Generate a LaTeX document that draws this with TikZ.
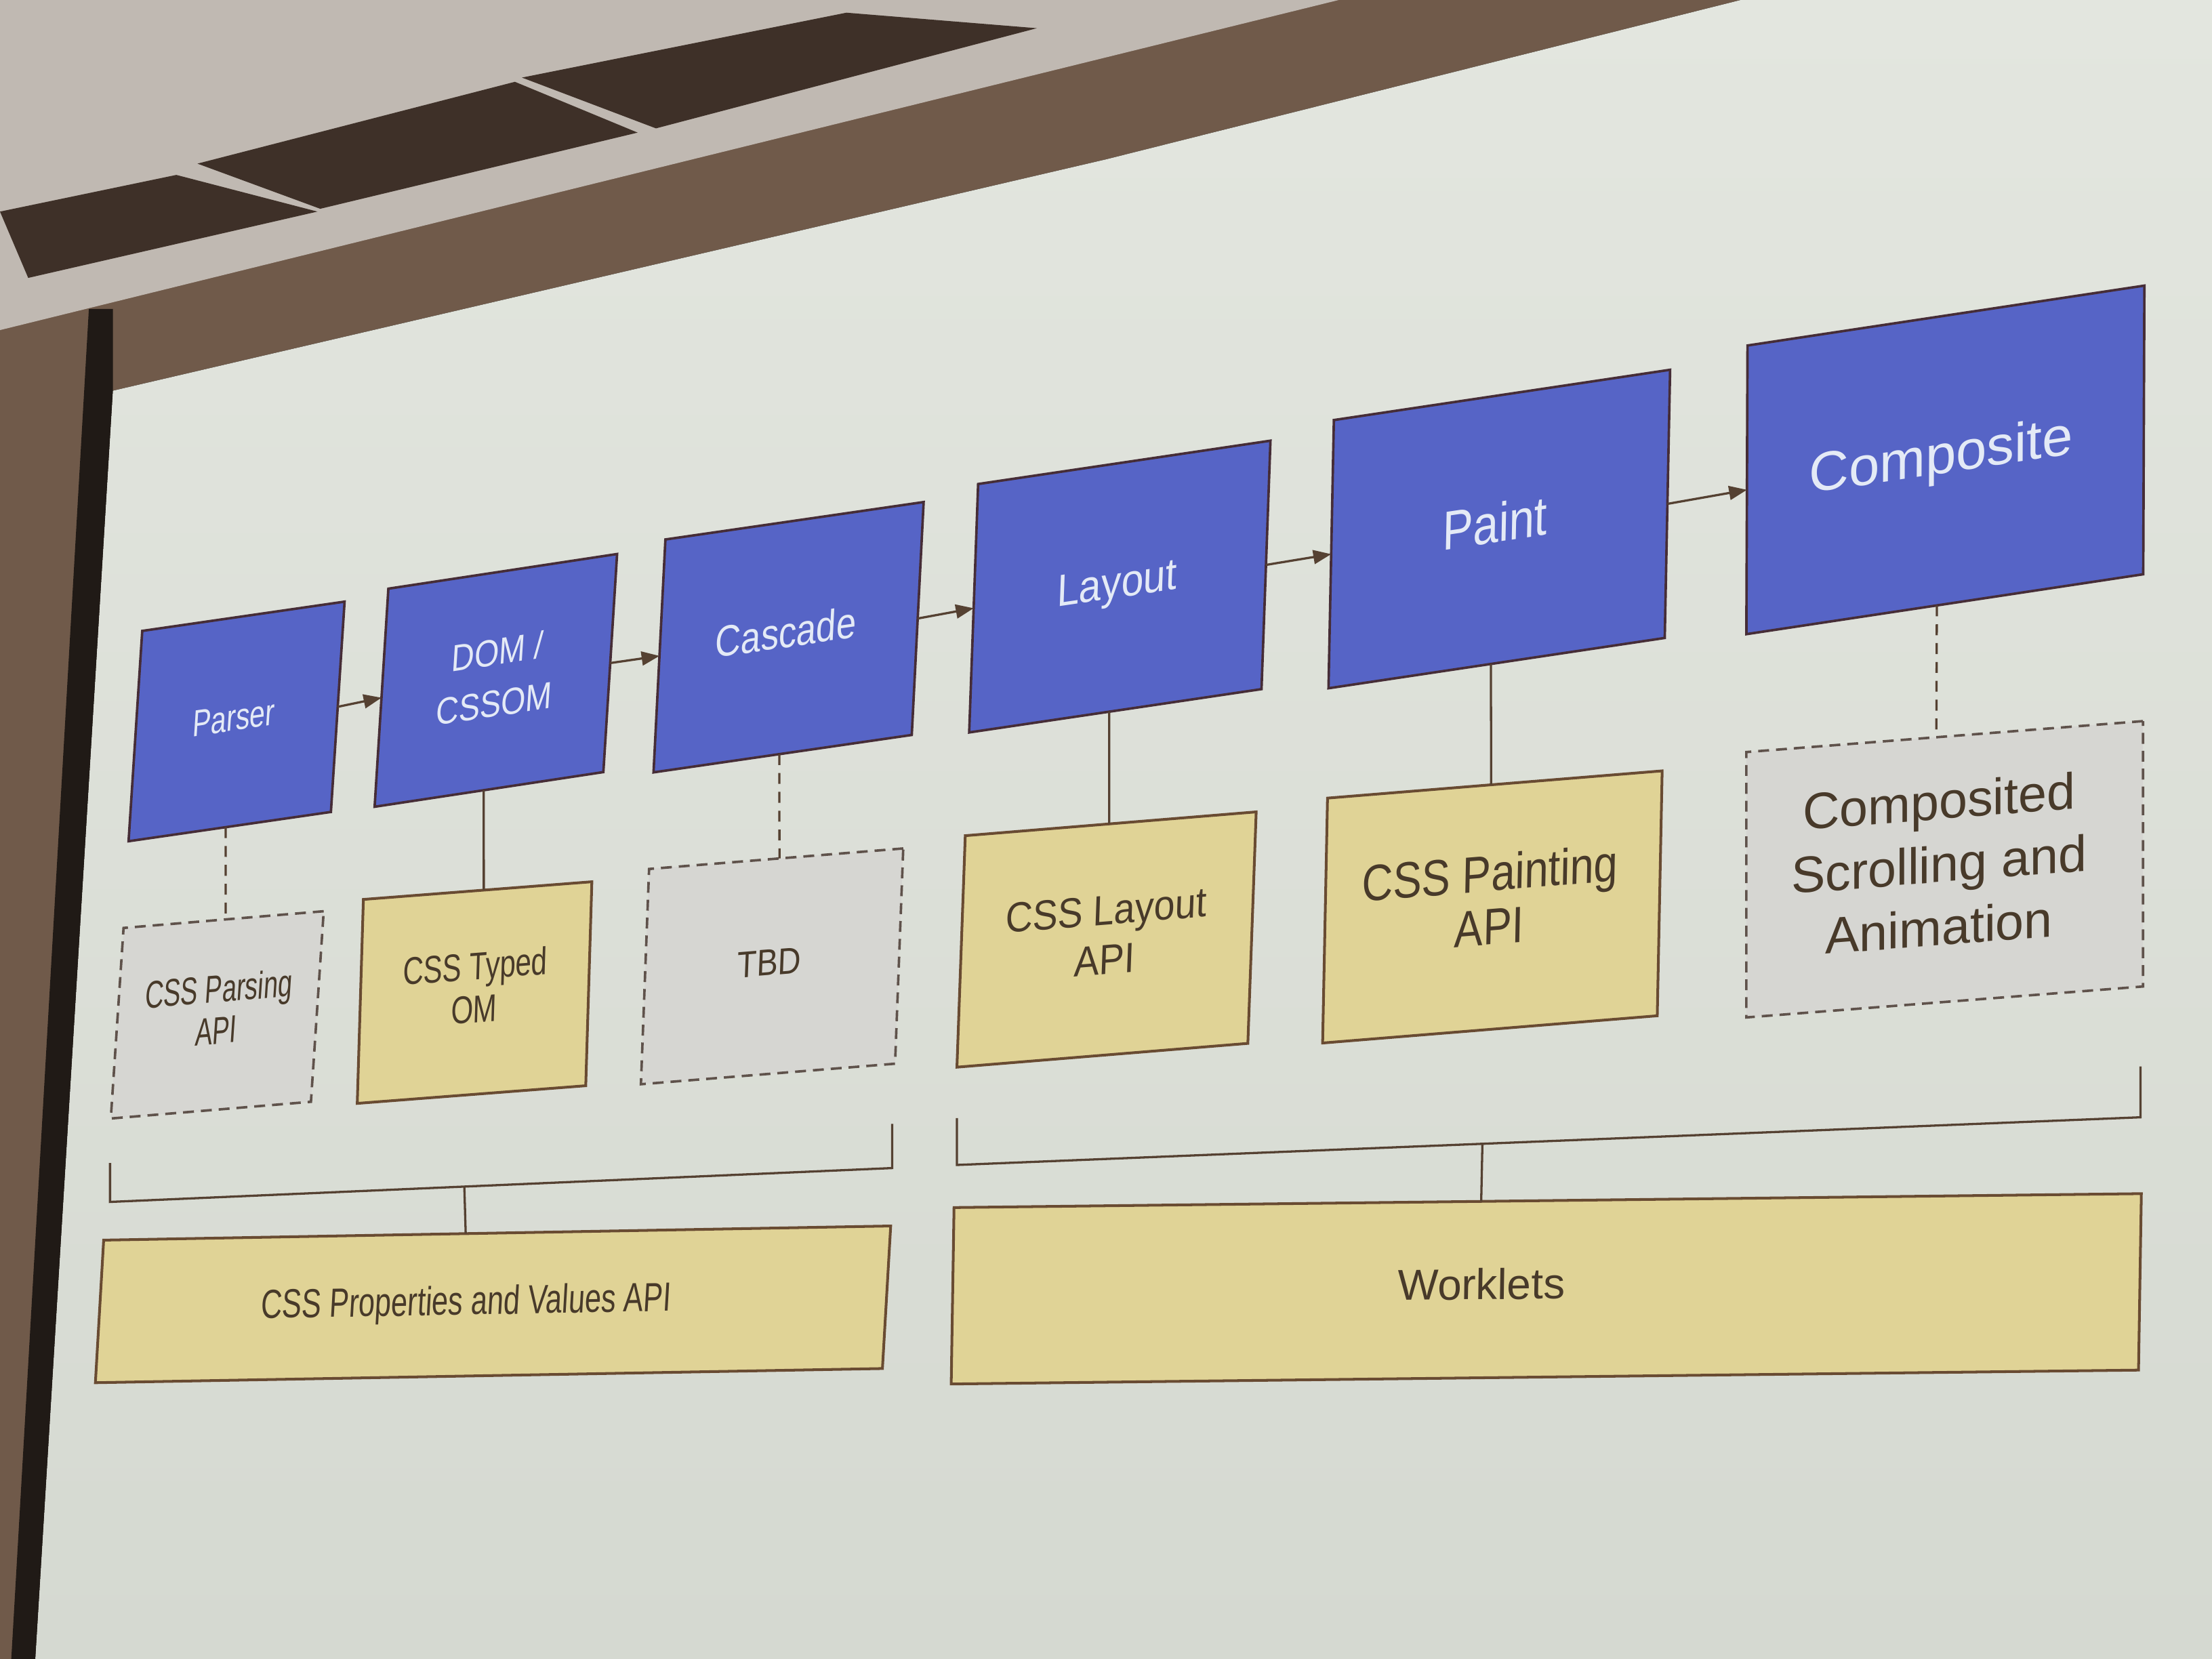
\documentclass[tikz,border=0pt]{standalone}
\usepackage{fontspec}
\setmainfont{Liberation Sans}
\usepackage{graphicx}
\usetikzlibrary{arrows.meta,calc}

\definecolor{bluefill}{RGB}{86,100,198}
\definecolor{blueedge}{RGB}{70,45,55}
\definecolor{tanfill}{RGB}{224,211,150}
\definecolor{tanedge}{RGB}{105,75,50}
\definecolor{grayfill}{RGB}{214,214,210}
\definecolor{dashedge}{RGB}{95,82,75}
\definecolor{wire}{RGB}{85,65,50}
\definecolor{lighttext}{RGB}{228,234,246}
\definecolor{darktext}{RGB}{72,58,42}
\definecolor{screentop}{RGB}{227,230,223}
\definecolor{screenbot}{RGB}{213,217,209}
\definecolor{wall}{RGB}{112,90,74}
\definecolor{ceil}{RGB}{192,185,178}
\definecolor{recess}{RGB}{62,48,40}
\definecolor{pole}{RGB}{32,26,22}

% #1 horizontal squeeze, #2 font size, #3 baselineskip, #4 horizontal shift, #5 lines
\newcommand{\lbl}[5]{\hbox{\kern#4\scalebox{#1}[1]{\fontsize{#2}{#3}\selectfont\begin{tabular}{@{}c@{}}#5\end{tabular}}\kern-#4}}

\begin{document}
\begin{tikzpicture}[x=0.01cm,y=-0.01cm,
  stage/.style={draw=blueedge, fill=bluefill, line width=0.5pt, inner sep=0pt, outer sep=0pt, text=lighttext},
  api/.style={draw=tanedge, fill=tanfill, line width=0.55pt, inner sep=0pt, outer sep=0pt, text=darktext},
  tbdstyle/.style={draw=dashedge, fill=grayfill, line width=0.5pt, dash pattern=on 2.2pt off 1.4pt, inner sep=0pt, outer sep=0pt, text=darktext},
  link/.style={draw=wire, line width=0.45pt},
  dlink/.style={link, dash pattern=on 2.2pt off 1.6pt},
  flow/.style={link, -{Triangle[length=3.6pt,width=2.8pt]}}]

\useasboundingbox (0,0) rectangle (1568,1176);

% ---- room behind the screen ----
\fill[wall] (0,0) rectangle (1568,1176);
\fill[ceil] (0,0) -- (949,0) -- (0,234) -- cycle;
\fill[recess] (0,150) -- (125,124) -- (225,150) -- (20,197) -- cycle;
\fill[recess] (140,116) -- (365,58) -- (452,94) -- (227,148) -- cycle;
\fill[recess] (370,55) -- (600,9) -- (735,20) -- (465,91) -- cycle;
\fill[top color=screentop, bottom color=screenbot]
  (80,277) -- (784,113) -- (1234,0) -- (1568,0) -- (1568,1176) -- (25,1176) -- cycle;
\fill[pole] (63,219) -- (80,219) -- (80,277) -- (25,1176) -- (8,1176) -- cycle;

% ---- pipeline stages ----
\node[stage, minimum width=1.42cm, minimum height=1.49cm, xslant=0.065, yslant=0.146]
  (parser) at (167.7,511.4) {\lbl{0.73}{7.6}{9}{-0.02cm}{Parser}};
\node[stage, minimum width=1.605cm, minimum height=1.545cm, xslant=0.063, yslant=0.153]
  (dom) at (351.5,482.3) {\lbl{0.83}{7.6}{10.5}{0pt}{DOM /\\CSSOM}};
\node[stage, minimum width=1.816cm, minimum height=1.65cm, xslant=0.051, yslant=0.146]
  (cascade) at (559,451.7) {\lbl{0.81}{8.8}{10}{-0.02cm}{Cascade}};
\node[stage, minimum width=2.06cm, minimum height=1.76cm, xslant=0.036, yslant=0.149]
  (layout) at (793.8,415.8) {\lbl{0.88}{9.1}{11}{-0.02cm}{Layout}};
\node[stage, minimum width=2.375cm, minimum height=1.90cm, xslant=0.02, yslant=0.15]
  (paint) at (1062.8,375) {\lbl{0.83}{11.1}{13}{-0.03cm}{Paint}};
\node[stage, minimum width=2.81cm, minimum height=2.045cm, xslant=0.004, yslant=0.151]
  (composite) at (1379,326) {\lbl{1.0}{11.1}{13}{-0.03cm}{Composite}};

% ---- APIs ----
\node[tbdstyle, minimum width=1.41cm, minimum height=1.35cm, xslant=0.067, yslant=0.084]
  (parsapi) at (154,719.4) {\lbl{0.66}{7.8}{8.4}{0pt}{CSS Parsing\\API}};
\node[api, minimum width=1.615cm, minimum height=1.445cm, xslant=0.03, yslant=0.0775]
  (typedom) at (336.4,703.6) {\lbl{0.735}{7.8}{8.7}{0pt}{CSS Typed\\OM}};
\node[tbdstyle, minimum width=1.795cm, minimum height=1.525cm, xslant=0.038, yslant=0.081]
  (tbdbox) at (547.3,685) {\lbl{0.85}{7.5}{9}{-0.02cm}{TBD}};
\node[api, minimum width=2.055cm, minimum height=1.64cm, xslant=0.036, yslant=0.082]
  (layoutapi) at (784.4,666) {\lbl{0.89}{8.5}{10}{-0.01cm}{CSS Layout\\API}};
\node[api, minimum width=2.367cm, minimum height=1.735cm, xslant=0.02, yslant=0.0815]
  (paintapi) at (1057.9,642.9) {\lbl{0.84}{10.3}{10.8}{-0.02cm}{CSS Painting\\API}};
\node[tbdstyle, minimum width=2.81cm, minimum height=1.88cm, yslant=0.078]
  (compapi) at (1378.5,616.2) {\lbl{1.0}{10.3}{12.7}{-0.04cm}{Composited\\Scrolling and\\Animation}};

\node[api, minimum width=5.57cm, minimum height=1.01cm, xslant=0.058, yslant=0.018]
  (props) at (349.5,924.6) {\lbl{0.72}{8.2}{10}{-0.19cm}{CSS Properties and Values API}};
\node[api, minimum width=8.41cm, minimum height=1.25cm, xslant=0.016, yslant=0.0117]
  (worklets) at (1096.1,913.6) {\lbl{1.0}{8.7}{10}{-0.46cm}{Worklets}};

% ---- flow arrows ----
\draw[flow] (parser.east) -- (dom.west);
\draw[flow] (dom.east) -- (cascade.west);
\draw[flow] (cascade.east) -- (layout.west);
\draw[flow] (layout.east) -- (paint.west);
\draw[flow] (paint.east) -- (composite.west);

% ---- stage to API links ----
\draw[dlink] ($(parser.south west)!0.48!(parser.south east)$) -- ($(parsapi.north west)!0.51!(parsapi.north east)$);
\draw[link] ($(dom.south west)!0.477!(dom.south east)$) -- ($(typedom.north west)!0.527!(typedom.north east)$);
\draw[dlink] ($(cascade.south west)!0.487!(cascade.south east)$) -- ($(tbdbox.north west)!0.513!(tbdbox.north east)$);
\draw[link] ($(layout.south west)!0.479!(layout.south east)$) -- ($(layoutapi.north west)!0.495!(layoutapi.north east)$);
\draw[link] ($(paint.south west)!0.483!(paint.south east)$) -- ($(paintapi.north west)!0.489!(paintapi.north east)$);
\draw[dlink] ($(composite.south west)!0.48!(composite.south east)$) -- ($(compapi.north west)!0.479!(compapi.north east)$);

% ---- brackets ----
\coordinate (lbA) at (78,824.4);
\coordinate (lbB) at (78,852);
\coordinate (lbC) at (632.4,828);
\coordinate (lbD) at (632.4,796.7);
\draw[link] (lbA) -- (lbB) -- (lbC) -- (lbD);
\coordinate (lbM) at ($(lbB)!0.453!(lbC)$);
\draw[link] (lbM) -- ($(props.north west)!0.46!(props.north east)$);

\coordinate (rbA) at (678.3,792.6);
\coordinate (rbB) at (678.3,825.8);
\coordinate (rbC) at (1517.3,792);
\coordinate (rbD) at (1517.3,756);
\draw[link] (rbA) -- (rbB) -- (rbC) -- (rbD);
\coordinate (rbM) at ($(rbB)!0.444!(rbC)$);
\draw[link] (rbM) -- ($(worklets.north west)!0.444!(worklets.north east)$);

\end{tikzpicture}
\end{document}
